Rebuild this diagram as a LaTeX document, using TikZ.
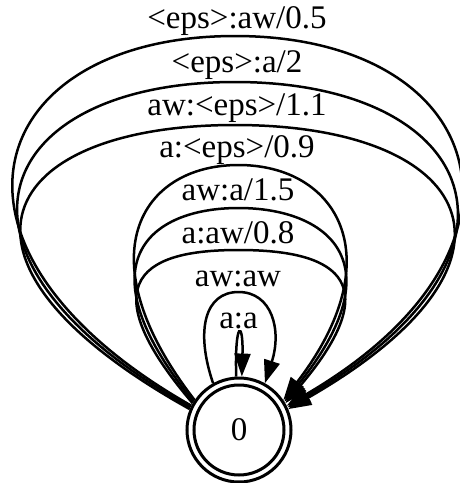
\documentclass[tikz,border=0pt]{standalone}
\usepackage{fontspec}
\setmainfont{Liberation Serif}
\usetikzlibrary{arrows.meta}
\begin{document}
\begin{tikzpicture}[x=1pt,y=-1pt,
  edge/.style={line width=2.5pt, -{Triangle[length=23pt,width=16pt]}},
  lbl/.style={anchor=base, inner sep=0pt, font=\fontsize{33}{33}\selectfont},
  outerring/.style={circle, draw, line width=3pt, minimum size=104pt, inner sep=0pt},
  innerring/.style={circle, draw, line width=3pt, minimum size=90pt, inner sep=0pt, font=\fontsize{33}{33}\selectfont}]
\useasboundingbox (0,0) rectangle (459,483);
% state
\node[outerring] (q0) at (239,430) {};
\node[innerring] (q0in) at (239,430) {0};
% labels
\node[lbl] (l1) at (237,28) {<eps>:aw/0.5};
\node[lbl] (l2) at (237,72) {<eps>:a/2};
\node[lbl] (l3) at (237,115) {aw:<eps>/1.1};
\node[lbl] (l4) at (237,157) {a:<eps>/0.9};
\node[lbl] (l5) at (238,200) {aw:a/1.5};
\node[lbl] (l6) at (238,243) {a:aw/0.8};
\node[lbl] (l7) at (238,286) {aw:aw};
\node[lbl] (l8) at (238.5,328) {a:a};
% outer bundle
\draw[edge] (q0.153) .. controls (-88,247) and (-15,36) .. (235,36)
  .. controls (485,36) and (558,247) .. (q0.27);
\draw[edge] (q0.155) .. controls (-84,253) and (-5,82) .. (235,82)
  .. controls (475,82) and (554,253) .. (q0.25);
\draw[edge] (q0.157) .. controls (-80,259) and (0,125) .. (235,125)
  .. controls (470,125) and (550,259) .. (q0.23);
% middle bundle
\draw[edge] (q0.146) .. controls (84,257) and (140,165) .. (238.5,165)
  .. controls (337,165) and (393,257) .. (q0.34);
\draw[edge] (q0.148) .. controls (80,262) and (150,208) .. (238.5,208)
  .. controls (327,208) and (397,262) .. (q0.32);
\draw[edge] (q0.150) .. controls (76,267) and (165,250) .. (238.5,250)
  .. controls (312,250) and (401,267) .. (q0.30);
% inner loops
\draw[edge] (q0.119) .. controls (195,330) and (205,292) .. (238.5,292)
  .. controls (272,292) and (282,330) .. (q0.61);
\draw[edge] (q0.93) .. controls (234.5,320) and (243.5,320) .. (q0.87);
\end{tikzpicture}
\end{document}
